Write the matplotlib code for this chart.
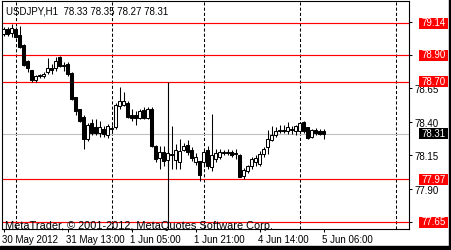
import matplotlib
matplotlib.use("Agg")
import matplotlib.pyplot as plt
import matplotlib.transforms as mtransforms
from matplotlib.patches import Rectangle

plt.rcParams['font.family'] = ['Liberation Sans', 'DejaVu Sans']

# ---- USDJPY H1 bars ----
opens = [79.06, 79.095, 79.065, 79.095, 79.05, 78.975, 78.855, 78.79, 78.715, 78.74,
         78.74, 78.775, 78.80, 78.80, 78.885, 78.82, 78.835, 78.765, 78.585, 78.50,
         78.44, 78.27, 78.39, 78.36, 78.32, 78.35, 78.30, 78.355, 78.36, 78.52,
         78.53, 78.545, 78.45, 78.45, 78.43, 78.49, 78.43, 78.50, 78.22, 78.13,
         78.175, 78.115, 78.16, 78.115, 78.10, 78.19, 78.23, 78.19, 78.10, 78.105,
         78.10, 78.19, 78.06, 78.12, 78.14, 78.17, 78.175, 78.175, 78.17, 78.15,
         77.995, 78.035, 78.07, 78.10, 78.085, 78.16, 78.21, 78.265, 78.30, 78.335,
         78.34, 78.33, 78.34, 78.33, 78.33, 78.40, 78.36, 78.29, 78.34, 78.33,
         78.33]
highs = [79.11, 79.11, 79.13, 79.11, 79.12, 78.98, 78.86, 78.79, 78.75, 78.76,
         78.77, 78.875, 78.83, 78.885, 78.89, 78.85, 78.845, 78.775, 78.59, 78.50,
         78.45, 78.39, 78.42, 78.42, 78.41, 78.37, 78.385, 78.38, 78.54, 78.66,
         78.625, 78.56, 78.50, 78.48, 78.50, 78.51, 78.51, 78.51, 78.225, 78.22,
         78.22, 78.20, 78.37, 78.235, 78.27, 78.245, 78.265, 78.21, 78.165, 78.11,
         78.20, 78.22, 78.46, 78.20, 78.20, 78.19, 78.20, 78.19, 78.20, 78.16,
         78.055, 78.08, 78.14, 78.15, 78.18, 78.21, 78.34, 78.37, 78.36, 78.375,
         78.38, 78.40, 78.37, 78.38, 78.40, 78.405, 78.365, 78.35, 78.355, 78.345,
         78.35]
lows = [79.04, 79.045, 79.035, 79.03, 78.955, 78.82, 78.77, 78.70, 78.70, 78.725,
        78.73, 78.76, 78.76, 78.78, 78.81, 78.78, 78.745, 78.565, 78.45, 78.40,
        78.20, 78.26, 78.30, 78.30, 78.29, 78.29, 78.28, 78.32, 78.35, 78.50,
        78.52, 78.43, 78.41, 78.38, 78.42, 78.42, 78.42, 78.21, 78.10, 78.05,
        78.07, 78.06, 78.05, 78.05, 78.05, 78.18, 78.15, 78.11, 78.08, 77.955,
        78.06, 78.05, 78.03, 78.10, 78.12, 78.15, 78.15, 78.14, 78.12, 77.985,
        77.97, 78.02, 78.05, 78.07, 78.07, 78.14, 78.16, 78.255, 78.29, 78.32,
        78.32, 78.31, 78.31, 78.30, 78.32, 78.32, 78.27, 78.28, 78.30, 78.30,
        78.27]
closes = [79.095, 79.06, 79.10, 79.035, 78.96, 78.825, 78.80, 78.71, 78.74, 78.75,
          78.76, 78.80, 78.785, 78.855, 78.82, 78.82, 78.755, 78.57, 78.48, 78.41,
          78.27, 78.375, 78.32, 78.315, 78.36, 78.31, 78.37, 78.345, 78.53, 78.555,
          78.555, 78.44, 78.43, 78.43, 78.48, 78.43, 78.50, 78.22, 78.12, 78.175,
          78.11, 78.165, 78.155, 78.19, 78.18, 78.22, 78.175, 78.13, 78.14, 78.00,
          78.175, 78.07, 78.15, 78.165, 78.175, 78.175, 78.17, 78.155, 78.16, 77.99,
          78.04, 78.07, 78.12, 78.13, 78.16, 78.20, 78.27, 78.30, 78.33, 78.34,
          78.335, 78.36, 78.34, 78.37, 78.39, 78.33, 78.28, 78.34, 78.315, 78.31,
          78.31]

x_tick_bars = [0, 16, 32, 48, 64, 80]
x_tick_labels = ['30 May 2012', '31 May 13:00', '1 Jun 05:00',
                 '1 Jun 21:00', '4 Jun 14:00', '5 Jun 06:00']
day_separator_bars = [3, 27, 50, 74, 98]
price_ticks = [79.15, 78.90, 78.65, 78.40, 78.15, 77.90, 77.65]
# labels hidden behind the level boxes in the original are left blank
price_tick_labels = ['', '', '78.65', '78.40', '78.15', '77.90', '']
level_lines = [79.14, 78.90, 78.70, 77.97, 77.65]
bid_price = 78.31
vline_bar = 41
vline_top = 78.70
chart_title = 'USDJPY,H1  78.33 78.35 78.27 78.31'
copyright_text = 'MetaTrader, \u00a9 2001-2012, MetaQuotes Software Corp.'

# ---- figure layout (pixels) ----
W, H = 451, 251
fig = plt.figure(figsize=(W / 100, H / 100), dpi=100)
fig.patch.set_facecolor('white')
ax = fig.add_axes([2 / W, 1 - 230 / H, 407 / W, 228 / H])
ax.set_xlim(-0.375, 101.375)
ax.set_ylim(77.598, 79.305)
for sp in ax.spines.values():
    sp.set_linewidth(0.8)
    sp.set_color('black')

# separators and level lines
for b in day_separator_bars:
    ax.axvline(b, color='black', lw=0.75, ls=(0, (3, 2)), zorder=1)
ax.axhline(bid_price, color='#c0c0c0', lw=0.8, zorder=1.2)
for lvl in level_lines:
    ax.axhline(lvl, color='red', lw=0.85, zorder=1.5)
ax.vlines(vline_bar, ax.get_ylim()[0], vline_top, color='black', lw=0.8, zorder=1.6)

# candles
bars = list(range(len(opens)))
ax.vlines(bars, lows, highs, color='black', lw=0.75, zorder=3)
bottoms = [min(o, c) for o, c in zip(opens, closes)]
heights = [max(abs(c - o), 0.003) for o, c in zip(opens, closes)]
faces = ['white' if c >= o else 'black' for o, c in zip(opens, closes)]
ax.bar(bars, heights, bottom=bottoms, width=0.55, color=faces,
       edgecolor='black', linewidth=0.75, zorder=4)

# price axis on the right
ax.yaxis.tick_right()
ax.set_yticks(price_ticks)
ax.set_yticklabels(price_tick_labels)
ax.tick_params(axis='y', direction='out', length=2.2, width=0.75,
               pad=2, labelsize=7)
ax.set_xticks(x_tick_bars)
ax.set_xticklabels([])
ax.tick_params(axis='x', direction='out', length=2.2, width=0.75)

# time labels
xtrans = mtransforms.blended_transform_factory(ax.transData, ax.transAxes)
for b, lab in zip(x_tick_bars, x_tick_labels):
    ax.text(b - 0.45, -10.5 / 228, lab, transform=xtrans, ha='left',
            va='center', fontsize=7, clip_on=False)

# price labels in boxes
ytrans = mtransforms.blended_transform_factory(ax.transAxes, ax.transData)
px = (ax.get_ylim()[1] - ax.get_ylim()[0]) / 228
box_x0 = 1 + 10 / 407
box_w = 29 / 407
for lvl, face in [(l, 'red') for l in level_lines] + [(bid_price, 'black')]:
    ax.add_patch(Rectangle((box_x0, lvl - 5.5 * px), box_w, 11 * px,
                           transform=ytrans, facecolor=face, edgecolor='none',
                           clip_on=False, zorder=6))
    ax.text(box_x0 + box_w / 2, lvl + 0.6 * px, '%.2f' % lvl, transform=ytrans,
            ha='center', va='center', color='white', fontsize=7,
            clip_on=False, zorder=7)

# header and copyright
fig.text(6.5 / W, 1 - 12 / H, chart_title, ha='left', va='center', fontsize=7)
fig.text(5 / W, 1 - 226.5 / H, copyright_text, ha='left', va='center',
         fontsize=7.9, zorder=10)

# window border (right and bottom)
fig.add_artist(Rectangle((449 / W, 0), 2 / W, 1, transform=fig.transFigure,
                         color='black'))
fig.add_artist(Rectangle((0, 0), 1, 4 / H, transform=fig.transFigure,
                         color='black'))

fig.savefig('out.png', dpi=100)
